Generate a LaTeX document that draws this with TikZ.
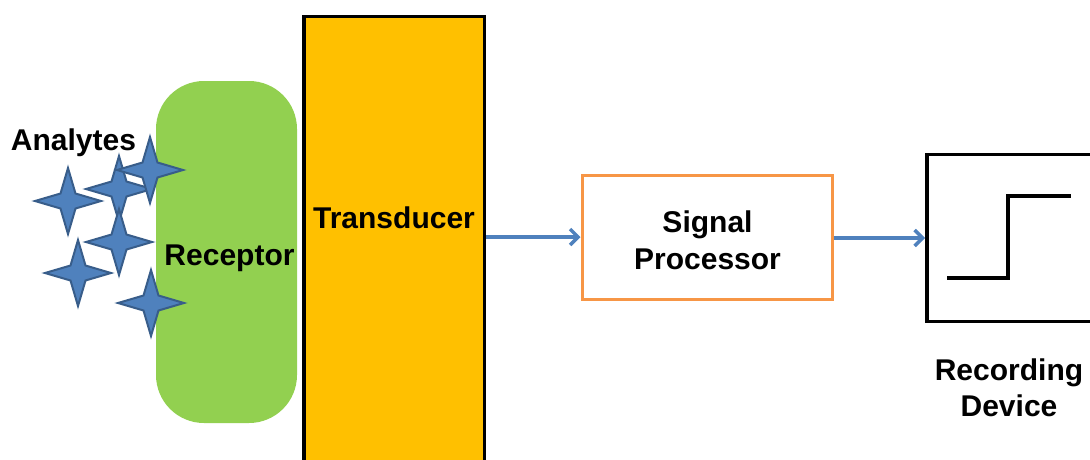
\documentclass[tikz,border=0pt]{standalone}
\usepackage{fontspec}
\setmainfont{Liberation Sans}
\usetikzlibrary{arrows.meta}
\definecolor{rgreen}{HTML}{92D050}
\definecolor{tyellow}{HTML}{FFC000}
\definecolor{sorange}{HTML}{F79646}
\definecolor{ablue}{HTML}{4F81BD}
\definecolor{sblue}{HTML}{385D8A}
\tikzset{
  lbl/.style={font=\fontsize{30}{37}\selectfont\bfseries, anchor=base, inner sep=0pt, align=center},
  conn/.style={draw=ablue, line width=3.5pt, -{Straight Barb[length=8pt,width=16pt,line width=3.5pt]}},
  starstyle/.style={fill=ablue, draw=sblue, line width=2pt, line join=miter},
  star4/.pic={\path[starstyle] (0,-33) -- (7.5,-7.5) -- (33,0) -- (7.5,7.5) -- (0,33) -- (-7.5,7.5) -- (-33,0) -- (-7.5,-7.5) -- cycle;}
}
\begin{document}
\begin{tikzpicture}[x=1pt,y=-1pt]
\useasboundingbox (0,0) rectangle (1090,459);
% receptor
\node[fill=rgreen, rounded corners=48pt, minimum width=141pt, minimum height=342pt, inner sep=0pt] (receptor) at (226.5,252) {};
% transducer
\node[fill=tyellow, draw=black, line width=3.5pt, minimum width=180.5pt, minimum height=470pt, inner sep=0pt, anchor=north west] (transducer) at (302,14.5) {};
% stars
\pic at (119,189) {star4};
\pic at (150,170) {star4};
\pic at (68,201) {star4};
\pic at (119,242) {star4};
\pic at (78,273) {star4};
\pic at (151,303) {star4};
% signal processor
\node[draw=sorange, line width=3pt, minimum width=250pt, minimum height=124pt, inner sep=0pt] (signal) at (707,237) {};
% recording device
\node[draw=black, line width=3.5pt, minimum width=170pt, minimum height=167pt, inner sep=0pt, anchor=west] (recording) at (925,238) {};
\coordinate (s1) at (947,278);
\coordinate (s2) at (1008,196);
\coordinate (s3) at (1071,196);
\draw[line width=3.5pt] (s1) -| (s2) -- (s3);
% labels
\node[lbl] (tAnalytes) at (73.5,150) {Analytes};
\node[lbl] (tReceptor) at (229.5,265) {Receptor};
\node[lbl] (tTransducer) at (394,228) {Transducer};
\node[lbl] (tSignal) at (707.5,232) {Signal};
\node[lbl] (tProcessor) at (707.5,269) {Processor};
\node[lbl] (tRecording) at (1009,380) {Recording};
\node[lbl] (tDevice) at (1009,416) {Device};
% connectors
\draw[conn] (transducer.east |- signal.west) -- (signal.west);
\draw[conn] (signal.east |- recording.west) -- (recording.west);
\end{tikzpicture}
\end{document}
